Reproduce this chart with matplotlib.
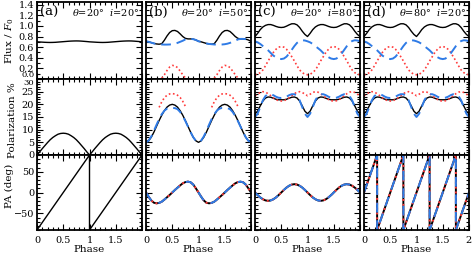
import numpy as np
import matplotlib
matplotlib.use("Agg")
import matplotlib.pyplot as plt
from matplotlib.ticker import MultipleLocator, FixedLocator

plt.rcParams['font.family'] = 'DejaVu Serif'
plt.rcParams['mathtext.fontset'] = 'dejavuserif'

nan = np.nan
phase = np.linspace(0, 2, 41)

# --- flux ---
flux_a = [0.700, 0.697, 0.694, 0.691, 0.689, 0.688, 0.689, 0.691, 0.695, 0.699, 0.703,
          0.707, 0.711, 0.714, 0.716, 0.717, 0.716, 0.713, 0.709, 0.705, 0.700,
          0.697, 0.694, 0.691, 0.689, 0.688, 0.689, 0.691, 0.695, 0.699, 0.703,
          0.707, 0.711, 0.714, 0.716, 0.717, 0.716, 0.713, 0.709, 0.705, 0.700]

flux_b_tot = [0.71, 0.70, 0.685, 0.67, 0.66, 0.655, 0.665, 0.73, 0.81, 0.875, 0.91,
              0.915, 0.895, 0.85, 0.80, 0.765, 0.755, 0.755, 0.75, 0.735, 0.71,
              0.70, 0.685, 0.67, 0.66, 0.655, 0.665, 0.73, 0.81, 0.875, 0.91,
              0.915, 0.895, 0.85, 0.80, 0.765, 0.755, 0.755, 0.75, 0.735, 0.71]
flux_b_p = [0.71, 0.70, 0.685, 0.67, 0.66, 0.655, 0.65, 0.648, 0.648, 0.65, 0.655,
            0.665, 0.68, 0.70, 0.72, 0.745, 0.755, 0.755, 0.75, 0.735, 0.71,
            0.70, 0.685, 0.67, 0.66, 0.655, 0.65, 0.648, 0.648, 0.65, 0.655,
            0.665, 0.68, 0.70, 0.72, 0.745, 0.755, 0.755, 0.75, 0.735, 0.71]
flux_b_s = [nan, nan, nan, nan, nan, nan, 0.015, 0.08, 0.16, 0.225, 0.255,
            0.25, 0.215, 0.15, 0.08, 0.02, nan, nan, nan, nan, nan,
            nan, nan, nan, nan, nan, 0.015, 0.08, 0.16, 0.225, 0.255,
            0.25, 0.215, 0.15, 0.08, 0.02, nan, nan, nan, nan, nan]

flux_c_tot = [0.80, 0.86, 0.93, 0.98, 1.01, 1.025, 1.025, 1.01, 0.99, 0.975, 0.97,
              0.975, 0.995, 1.02, 1.04, 1.04, 1.02, 0.97, 0.90, 0.84, 0.80,
              0.86, 0.93, 0.98, 1.01, 1.025, 1.025, 1.01, 0.99, 0.975, 0.97,
              0.975, 0.995, 1.02, 1.04, 1.04, 1.02, 0.97, 0.90, 0.84, 0.80]
flux_c_p = [0.71, 0.69, 0.66, 0.62, 0.58, 0.54, 0.49, 0.44, 0.41, 0.385, 0.375,
            0.385, 0.42, 0.48, 0.55, 0.62, 0.68, 0.715, 0.73, 0.725, 0.71,
            0.69, 0.66, 0.62, 0.58, 0.54, 0.49, 0.44, 0.41, 0.385, 0.375,
            0.385, 0.42, 0.48, 0.55, 0.62, 0.68, 0.715, 0.73, 0.725, 0.71]
flux_c_s = [0.08, 0.09, 0.12, 0.17, 0.25, 0.34, 0.42, 0.50, 0.56, 0.60, 0.61,
            0.60, 0.56, 0.50, 0.42, 0.34, 0.25, 0.17, 0.12, 0.09, 0.08,
            0.09, 0.12, 0.17, 0.25, 0.34, 0.42, 0.50, 0.56, 0.60, 0.61,
            0.60, 0.56, 0.50, 0.42, 0.34, 0.25, 0.17, 0.12, 0.09, 0.08]

# --- polarization % ---
pol_a = [0.0, 1.2, 2.5, 3.7, 4.9, 6.0, 6.9, 7.6, 8.2, 8.5, 8.6,
         8.5, 8.2, 7.6, 6.9, 6.0, 4.9, 3.7, 2.5, 1.2, 0.0,
         1.2, 2.5, 3.7, 4.9, 6.0, 6.9, 7.6, 8.2, 8.5, 8.6,
         8.5, 8.2, 7.6, 6.9, 6.0, 4.9, 3.7, 2.5, 1.2, 0.0]

pol_b_tot = [5.0, 5.6, 7.0, 9.0, 11.3, 13.6, 15.7, 17.5, 18.9, 19.7, 20.0,
             19.7, 18.9, 17.5, 15.7, 13.6, 11.3, 9.0, 7.0, 5.6, 5.0,
             5.6, 7.0, 9.0, 11.3, 13.6, 15.7, 17.5, 18.9, 19.7, 20.0,
             19.7, 18.9, 17.5, 15.7, 13.6, 11.3, 9.0, 7.0, 5.6, 5.0]
pol_b_p = [5.0, 5.7, 7.3, 9.5, 11.9, 14.2, 16.1, 17.5, 18.3, 18.6, 18.6,
           18.5, 18.1, 17.0, 15.4, 13.4, 11.2, 9.0, 7.0, 5.6, 5.0,
           5.7, 7.3, 9.5, 11.9, 14.2, 16.1, 17.5, 18.3, 18.6, 18.6,
           18.5, 18.1, 17.0, 15.4, 13.4, 11.2, 9.0, 7.0, 5.6, 5.0]
pol_b_s = [nan, nan, nan, nan, nan, 18.8, 21.0, 22.6, 23.6, 24.1, 24.2,
           24.1, 23.6, 22.7, 21.2, 19.2, nan, nan, nan, nan, nan,
           nan, nan, nan, nan, 18.8, 21.0, 22.6, 23.6, 24.1, 24.2,
           24.1, 23.6, 22.7, 21.2, 19.2, nan, nan, nan, nan, nan]

pol_c_tot = [16.3, 17.3, 19.4, 21.3, 22.5, 22.9, 22.8, 22.4, 22.0, 21.8, 21.8,
             21.8, 22.0, 22.4, 22.8, 22.9, 22.5, 21.3, 19.4, 17.3, 16.3,
             17.3, 19.4, 21.3, 22.5, 22.9, 22.8, 22.4, 22.0, 21.8, 21.8,
             21.8, 22.0, 22.4, 22.8, 22.9, 22.5, 21.3, 19.4, 17.3, 16.3]
pol_c_p = [15.0, 16.3, 18.9, 21.6, 23.3, 24.0, 24.0, 23.6, 23.0, 22.6, 22.5,
           22.6, 23.0, 23.6, 24.0, 24.0, 23.3, 21.6, 18.9, 16.3, 15.0,
           16.3, 18.9, 21.6, 23.3, 24.0, 24.0, 23.6, 23.0, 22.6, 22.5,
           22.6, 23.0, 23.6, 24.0, 24.0, 23.3, 21.6, 18.9, 16.3, 15.0]
pol_c_s = [23.4, 24.0, 24.7, 25.0, 24.8, 24.2, 23.4, 22.6, 21.9, 21.4, 21.3,
           21.4, 21.9, 22.6, 23.4, 24.2, 24.8, 25.0, 24.7, 24.0, 23.4,
           24.0, 24.7, 25.0, 24.8, 24.2, 23.4, 22.6, 21.9, 21.4, 21.3,
           21.4, 21.9, 22.6, 23.4, 24.2, 24.8, 25.0, 24.7, 24.0, 23.4]

# --- position angle (deg) ---
phase_pa_a = [0.0, 0.05, 0.1, 0.15, 0.2, 0.25, 0.3, 0.35, 0.4, 0.45, 0.5,
              0.55, 0.6, 0.65, 0.7, 0.75, 0.8, 0.85, 0.9, 0.95, 1.0,
              1.0, 1.05, 1.1, 1.15, 1.2, 1.25, 1.3, 1.35, 1.4, 1.45, 1.5,
              1.55, 1.6, 1.65, 1.7, 1.75, 1.8, 1.85, 1.9, 1.95, 2.0, 2.0]
pa_a = [-90, -81, -72, -63, -54, -45, -36, -27, -18, -9, 0,
        9, 18, 27, 36, 45, 54, 63, 72, 81, 90,
        -90, -81, -72, -63, -54, -45, -36, -27, -18, -9, 0,
        9, 18, 27, 36, 45, 54, 63, 72, 81, 90, -90]

pa_b = [0, -10, -19, -24.5, -26, -25, -22, -17, -11.5, -6, 0,
        6, 11.5, 17, 22, 25, 26, 24.5, 19, 10, 0,
        -10, -19, -24.5, -26, -25, -22, -17, -11.5, -6, 0,
        6, 11.5, 17, 22, 25, 26, 24.5, 19, 10, 0]

pa_c = [0, -6.2, -11.8, -16.2, -19, -20, -19, -16.2, -11.8, -6.2, 0,
        6.2, 11.8, 16.2, 19, 20, 19, 16.2, 11.8, 6.2, 0,
        -6.2, -11.8, -16.2, -19, -20, -19, -16.2, -11.8, -6.2, 0,
        6.2, 11.8, 16.2, 19, 20, 19, 16.2, 11.8, 6.2, 0]

phase_pa_d = [0.0, 0.05, 0.1, 0.15, 0.2, 0.25,
              0.25, 0.3, 0.35, 0.4, 0.45, 0.5, 0.55, 0.6, 0.65, 0.7, 0.75,
              0.75, 0.8, 0.85, 0.9, 0.95, 1.0, 1.05, 1.1, 1.15, 1.2, 1.25,
              1.25, 1.3, 1.35, 1.4, 1.45, 1.5, 1.55, 1.6, 1.65, 1.7, 1.75,
              1.75, 1.8, 1.85, 1.9, 1.95, 2.0]
pa_d = [0, 18, 36, 54, 72, 90,
        -90, -72, -54, -36, -18, 0, 18, 36, 54, 72, 90,
        -90, -72, -54, -36, -18, 0, 18, 36, 54, 72, 90,
        -90, -72, -54, -36, -18, 0, 18, 36, 54, 72, 90,
        -90, -72, -54, -36, -18, 0]

panel_tags = ['(a)', '(b)', '(c)', '(d)']
theta_deg = [20, 20, 20, 80]
incl_deg = [20, 50, 80, 20]

flux_ticks = [0.0, 0.2, 0.4, 0.6, 0.8, 1.0, 1.2, 1.4]
pol_ticks = [0, 5, 10, 15, 20, 25, 30]
pa_ticks = [-50, 0, 50]

RED = '#ff3b3b'
BLUE = '#2f7be6'

fig = plt.figure(figsize=(4.72, 2.59), dpi=100)
W, H = 472.0, 259.0
col_left = [37, 146, 255, 364]
col_w = 105
row_top = [2, 79, 155]
row_h = [77, 76, 75]

axes = [[None] * 4 for _ in range(3)]
for r in range(3):
    for c in range(4):
        ax = fig.add_axes([col_left[c] / W, 1 - (row_top[r] + row_h[r]) / H,
                           col_w / W, row_h[r] / H])
        axes[r][c] = ax
        ax.set_xlim(0, 2)
        ticks = [0, 0.5, 1, 1.5, 2]
        ax.xaxis.set_major_locator(FixedLocator(ticks))
        ax.xaxis.set_minor_locator(MultipleLocator(0.1))
        ax.tick_params(which='both', direction='in', top=True, right=True,
                       labelsize=7, width=0.8, pad=2)
        ax.tick_params(which='major', length=4)
        ax.tick_params(which='minor', length=2)
        for s in ax.spines.values():
            s.set_linewidth(1.3)
        if r < 2:
            ax.set_xticklabels([])
        else:
            ax.tick_params(axis='x', pad=4)
            ax.set_xlabel('Phase', fontsize=7.5, labelpad=0)
            labels = ['0', '0.5', '1', '1.5', '2' if c == 3 else '']
            ax.set_xticklabels(labels)

flux_sets = [(flux_a, None, None), (flux_b_tot, flux_b_p, flux_b_s),
             (flux_c_tot, flux_c_p, flux_c_s), (flux_c_tot, flux_c_p, flux_c_s)]
pol_sets = [(pol_a, None, None), (pol_b_tot, pol_b_p, pol_b_s),
            (pol_c_tot, pol_c_p, pol_c_s), (pol_c_tot, pol_c_p, pol_c_s)]

for c in range(4):
    for r, sets in ((0, flux_sets), (1, pol_sets)):
        ax = axes[r][c]
        tot, prim, sec = sets[c]
        ax.plot(phase, tot, color='black', lw=1.0)
        if sec is not None:
            ax.plot(phase, sec, color=RED, lw=1.2, ls=(0, (1, 1.5)))
        if prim is not None:
            ax.plot(phase, prim, color=BLUE, lw=1.4, ls=(0, (5, 3)))

# PA row
axes[2][0].plot(phase_pa_a, pa_a, color='black', lw=1.0)
for c, pa in ((1, pa_b), (2, pa_c)):
    ax = axes[2][c]
    ax.plot(phase, pa, color='black', lw=1.4)
    ax.plot(phase, pa, color=RED, lw=1.4, ls=(0, (1, 1.5)))
    ax.plot(phase, pa, color=BLUE, lw=1.4, ls=(0, (5, 4)))
ax = axes[2][3]
ax.plot(phase_pa_d, pa_d, color='black', lw=1.4)
ax.plot(phase_pa_d, pa_d, color=RED, lw=1.4, ls=(0, (1, 1.5)))
ax.plot(phase_pa_d, pa_d, color=BLUE, lw=1.4, ls=(0, (5, 4)))

for c in range(4):
    ax = axes[0][c]
    ax.set_ylim(0, 1.45)
    ax.yaxis.set_major_locator(FixedLocator(flux_ticks))
    ax.yaxis.set_minor_locator(MultipleLocator(0.1))
    ax.text(0.03, 0.955, panel_tags[c], transform=ax.transAxes, fontsize=9.5,
            va='top', ha='left')
    ax.text(0.97, 0.94, r'$\theta$=%d°  $i$=%d°' % (theta_deg[c], incl_deg[c]),
            transform=ax.transAxes, fontsize=7, va='top', ha='right')
    ax = axes[1][c]
    ax.set_ylim(0, 30)
    ax.yaxis.set_major_locator(FixedLocator(pol_ticks))
    ax.yaxis.set_minor_locator(MultipleLocator(1))
    ax = axes[2][c]
    ax.set_ylim(-90, 90)
    ax.yaxis.set_major_locator(FixedLocator(pa_ticks))
    ax.yaxis.set_minor_locator(MultipleLocator(10))
    if c > 0:
        for r in range(3):
            axes[r][c].set_yticklabels([])

axes[0][0].set_yticklabels(['%.1f' % v for v in flux_ticks])
axes[1][0].set_yticklabels(['%d' % v for v in pol_ticks])
axes[2][0].set_yticklabels(['\u221250', '0', '50'])
# the "0.0" and "30" labels sit on the shared border: squeeze them apart
lab00 = axes[0][0].get_yticklabels()[0]
lab00.set_va('bottom')
lab00.set_fontsize(6)
lab30 = axes[1][0].get_yticklabels()[-1]
lab30.set_va('top')
lab30.set_fontsize(6)

fig.text(10 / W, 1 - 41 / H, r'Flux / $F_0$', rotation=90, ha='center',
         va='center', fontsize=7.5)
fig.text(13 / W, 1 - 120 / H, 'Polarization %', rotation=90, ha='center',
         va='center', fontsize=7.5)
fig.text(9 / W, 1 - 186 / H, 'PA (deg)', rotation=90, ha='center',
         va='center', fontsize=7.5)

fig.savefig('out.png', dpi=100)
